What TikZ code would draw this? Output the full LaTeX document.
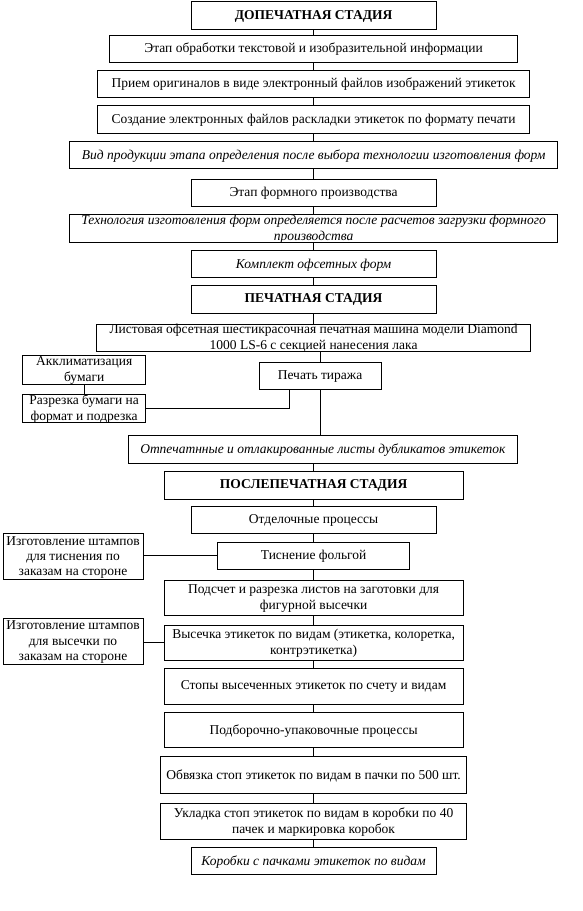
\documentclass[tikz,border=0pt]{standalone}
\usepackage{fontspec}
\setmainfont{Liberation Serif}
\newcommand\boxfont{\fontsize{13.5}{16.3}\selectfont}
\tikzset{
  box/.style={draw, line width=0.9pt, rectangle, inner sep=0pt},
  txt/.style={inner sep=0pt, align=center, font=\boxfont, yshift=-0.8pt},
  it/.style={font=\boxfont\itshape},
  bf/.style={font=\boxfont\bfseries},
  tight/.style={font=\fontsize{13.5}{15.2}\selectfont},
  link/.style={line width=0.9pt}
}
% name, cx, cy, width, height, text style, text
\newcommand\mybox[7]{%
  \node[box, minimum width=#4pt, minimum height=#5pt] (#1) at (#2,#3) {};
  \node[txt,#6] (#1t) at (#1) {#7};}
\begin{document}
\begin{tikzpicture}[x=1pt,y=-1pt]
\useasboundingbox (0,0) rectangle (583,911);
\fill[white] (0,0) rectangle (583,911);
\def\cx{313.6}
\mybox{b1}{\cx}{15.35}{244.7}{27.3}{bf}{ДОПЕЧАТНАЯ СТАДИЯ}
\mybox{b2}{\cx}{48.65}{407.8}{27.3}{}{Этап обработки текстовой и изобразительной информации}
\mybox{b3}{\cx}{83.65}{431.9}{27.3}{}{Прием оригиналов в виде электронный файлов изображений этикеток}
\mybox{b4}{\cx}{119.5}{431.9}{27.6}{}{Создание электронных файлов раскладки этикеток по формату печати}
\mybox{b5}{\cx}{155}{488.5}{26.6}{it}{Вид продукции этапа определения после выбора технологии изготовления форм}
\mybox{b6}{\cx}{192.65}{244.7}{26.7}{}{Этап формного производства}
\mybox{b7}{\cx}{228.3}{488.5}{28}{it}{Технология изготовления форм определяется после расчетов загрузки формного\\производства}
\mybox{b8}{\cx}{264}{244.7}{26.6}{it}{Комплект офсетных форм}
\mybox{b9}{\cx}{299.15}{244.7}{28.3}{bf}{ПЕЧАТНАЯ СТАДИЯ}
\mybox{b10}{\cx}{337.65}{434.2}{26.7}{}{Листовая офсетная шестикрасочная печатная машина модели Diamond\\1000 LS-6 с секцией нанесения лака}
\mybox{akkl}{84.2}{369.85}{123}{28.3}{}{Акклиматизация\\бумаги}
\mybox{razr}{84.2}{408.3}{123}{28}{}{Разрезка бумаги на\\формат и подрезка}
\mybox{pech}{320.05}{375.65}{121.9}{26.7}{}{Печать тиража}
\mybox{otp}{322.9}{449.15}{389.2}{28.3}{it}{Отпечатнные и отлакированные листы дубликатов этикеток}
\mybox{posle}{\cx}{485}{299.3}{28}{bf}{ПОСЛЕПЕЧАТНАЯ СТАДИЯ}
\mybox{otdel}{\cx}{520}{244.7}{26.6}{}{Отделочные процессы}
\mybox{tisn}{\cx}{555.65}{191.5}{26.7}{}{Тиснение фольгой}
\mybox{izga}{73.05}{556.5}{140.1}{46.5}{tight}{Изготовление штампов\\для тиснения по\\заказам на стороне}
\mybox{podsch}{\cx}{597.85}{299.3}{35.7}{}{Подсчет и разрезка листов на заготовки для\\фигурной высечки}
\mybox{izgb}{73.05}{641.3}{140.1}{46}{tight}{Изготовление штампов\\для высечки по\\заказам на стороне}
\mybox{vys}{\cx}{642.5}{299.3}{35}{}{Высечка этикеток по видам (этикетка, колоретка,\\контрэтикетка)}
\mybox{stopy}{\cx}{686.15}{299.3}{35.7}{}{Стопы высеченных этикеток по счету и видам}
\mybox{podb}{\cx}{730.2}{299.3}{35}{}{Подборочно-упаковочные процессы}
\mybox{obv}{\cx}{775}{305.5}{36.6}{}{Обвязка стоп этикеток по видам в пачки по 500 шт.}
\mybox{ukl}{\cx}{821.3}{305.5}{36}{}{Укладка стоп этикеток по видам в коробки по 40\\пачек и маркировка коробок}
\mybox{kor}{\cx}{860.8}{244.7}{27}{it}{Коробки с пачками этикеток по видам}
% connectors
\draw[link] (b1) -- (b2);
\draw[link] (b2) -- (b3);
\draw[link] (b3) -- (b4);
\draw[link] (b4) -- (b5);
\draw[link] (b5) -- (b6);
\draw[link] (b6) -- (b7);
\draw[link] (b7) -- (b8);
\draw[link] (b8) -- (b9);
\draw[link] (b9) -- (b10);
\draw[link] (pech.north) -- (pech.north |- b10.south);
\draw[link] (pech.south) -- (pech.south |- otp.north);
\draw[link] (akkl) -- (razr);
\path (pech.south) ++(-30.85,0) coordinate (rp);
\draw[link] (razr.east) -| (rp);
\draw[link] (posle.north) -- (posle.north |- otp.south);
\draw[link] (posle) -- (otdel);
\draw[link] (otdel) -- (tisn);
\draw[link] (tisn) -- (podsch);
\draw[link] (podsch) -- (vys);
\draw[link] (vys) -- (stopy);
\draw[link] (stopy) -- (podb);
\draw[link] (podb) -- (obv);
\draw[link] (obv) -- (ukl);
\draw[link] (ukl) -- (kor);
\draw[link] (tisn.west) -- (tisn.west -| izga.east);
\draw[link] (vys.west) -- (vys.west -| izgb.east);
\end{tikzpicture}
\end{document}
